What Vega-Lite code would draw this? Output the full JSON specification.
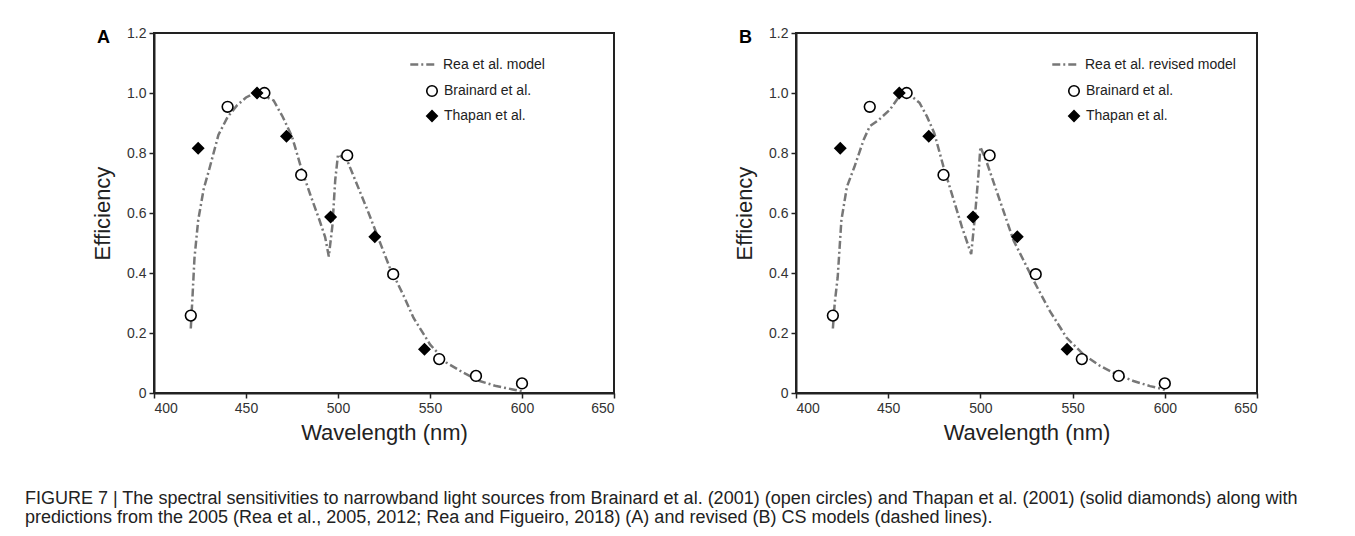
{
  "$schema": "https://vega.github.io/schema/vega-lite/v6.json",
  "autosize": {"type": "pad"},
  "padding": {"left": 25, "top": 25, "right": 0, "bottom": 0},
  "background": "white",
  "datasets": {
    "modelA": [
      {"wavelength": 420, "efficiency": 0.215},
      {"wavelength": 421, "efficiency": 0.33},
      {"wavelength": 422, "efficiency": 0.45},
      {"wavelength": 424, "efficiency": 0.575},
      {"wavelength": 427, "efficiency": 0.68},
      {"wavelength": 430, "efficiency": 0.745},
      {"wavelength": 435, "efficiency": 0.86},
      {"wavelength": 440, "efficiency": 0.92},
      {"wavelength": 445, "efficiency": 0.958},
      {"wavelength": 450, "efficiency": 0.985},
      {"wavelength": 455, "efficiency": 1.0},
      {"wavelength": 460, "efficiency": 0.99},
      {"wavelength": 465, "efficiency": 0.975},
      {"wavelength": 470, "efficiency": 0.92},
      {"wavelength": 475, "efficiency": 0.855},
      {"wavelength": 480, "efficiency": 0.75},
      {"wavelength": 485, "efficiency": 0.66},
      {"wavelength": 490, "efficiency": 0.575},
      {"wavelength": 493, "efficiency": 0.52},
      {"wavelength": 495, "efficiency": 0.455},
      {"wavelength": 497, "efficiency": 0.56},
      {"wavelength": 498.5, "efficiency": 0.71},
      {"wavelength": 500, "efficiency": 0.795},
      {"wavelength": 505, "efficiency": 0.775},
      {"wavelength": 510, "efficiency": 0.7},
      {"wavelength": 516, "efficiency": 0.61},
      {"wavelength": 522, "efficiency": 0.515},
      {"wavelength": 528, "efficiency": 0.42},
      {"wavelength": 530, "efficiency": 0.396},
      {"wavelength": 536, "efficiency": 0.32},
      {"wavelength": 541, "efficiency": 0.251},
      {"wavelength": 550, "efficiency": 0.162},
      {"wavelength": 559, "efficiency": 0.101},
      {"wavelength": 568, "efficiency": 0.068},
      {"wavelength": 577, "efficiency": 0.04},
      {"wavelength": 586, "efficiency": 0.023},
      {"wavelength": 595, "efficiency": 0.012},
      {"wavelength": 600, "efficiency": 0.006}
    ],
    "modelB": [
      {"wavelength": 420, "efficiency": 0.215},
      {"wavelength": 421, "efficiency": 0.3},
      {"wavelength": 422.6, "efficiency": 0.385},
      {"wavelength": 424.6, "efficiency": 0.575},
      {"wavelength": 427.6, "efficiency": 0.687},
      {"wavelength": 431.7, "efficiency": 0.754},
      {"wavelength": 436.7, "efficiency": 0.844},
      {"wavelength": 440, "efficiency": 0.889},
      {"wavelength": 445, "efficiency": 0.911},
      {"wavelength": 451, "efficiency": 0.945},
      {"wavelength": 456, "efficiency": 0.989},
      {"wavelength": 460, "efficiency": 1.003},
      {"wavelength": 467, "efficiency": 0.967},
      {"wavelength": 471, "efficiency": 0.922},
      {"wavelength": 475, "efficiency": 0.866},
      {"wavelength": 480, "efficiency": 0.754},
      {"wavelength": 485, "efficiency": 0.654},
      {"wavelength": 490, "efficiency": 0.553},
      {"wavelength": 495, "efficiency": 0.463},
      {"wavelength": 497, "efficiency": 0.586},
      {"wavelength": 499, "efficiency": 0.732},
      {"wavelength": 500, "efficiency": 0.82},
      {"wavelength": 503, "efficiency": 0.777},
      {"wavelength": 508, "efficiency": 0.687},
      {"wavelength": 513, "efficiency": 0.598},
      {"wavelength": 518, "efficiency": 0.508},
      {"wavelength": 523.5, "efficiency": 0.441},
      {"wavelength": 529, "efficiency": 0.373},
      {"wavelength": 537.7, "efficiency": 0.273},
      {"wavelength": 546.8, "efficiency": 0.184},
      {"wavelength": 555.8, "efficiency": 0.129},
      {"wavelength": 565, "efficiency": 0.09},
      {"wavelength": 574, "efficiency": 0.062},
      {"wavelength": 583, "efficiency": 0.04},
      {"wavelength": 592, "efficiency": 0.023},
      {"wavelength": 597, "efficiency": 0.016},
      {"wavelength": 600, "efficiency": 0.01}
    ],
    "points": [
      {"series": "Brainard et al.", "wavelength": 420, "efficiency": 0.258},
      {"series": "Brainard et al.", "wavelength": 440, "efficiency": 0.954},
      {"series": "Brainard et al.", "wavelength": 460, "efficiency": 1.0},
      {"series": "Brainard et al.", "wavelength": 480, "efficiency": 0.727},
      {"series": "Brainard et al.", "wavelength": 505, "efficiency": 0.792},
      {"series": "Brainard et al.", "wavelength": 530, "efficiency": 0.396},
      {"series": "Brainard et al.", "wavelength": 555, "efficiency": 0.113},
      {"series": "Brainard et al.", "wavelength": 575, "efficiency": 0.057},
      {"series": "Brainard et al.", "wavelength": 600, "efficiency": 0.032},
      {"series": "Thapan et al.", "wavelength": 424, "efficiency": 0.816},
      {"series": "Thapan et al.", "wavelength": 456, "efficiency": 1.0},
      {"series": "Thapan et al.", "wavelength": 472, "efficiency": 0.856},
      {"series": "Thapan et al.", "wavelength": 496, "efficiency": 0.587},
      {"series": "Thapan et al.", "wavelength": 520, "efficiency": 0.521},
      {"series": "Thapan et al.", "wavelength": 547, "efficiency": 0.146}
    ]
  },
  "hconcat": [
    {
      "title": {"text": "A", "anchor": "start", "frame": "group", "dx": -57, "dy": 30, "offset": 0, "baseline": "middle", "fontSize": 18, "fontWeight": "bold", "font": "Liberation Sans", "color": "#000"},
      "width": 460,
      "height": 360,
      "layer": [
        {
          "data": {"name": "modelA"},
          "mark": {"type": "line", "stroke": "#777777", "strokeWidth": 2.5},
          "encoding": {
            "x": {"field": "wavelength", "type": "quantitative", "scale": {"domain": [400, 650], "nice": false}, "axis": {"values": [400, 450, 500, 550, 600, 650], "title": "Wavelength (nm)"}},
            "y": {"field": "efficiency", "type": "quantitative", "scale": {"domain": [0, 1.2], "nice": false}, "axis": {"values": [0, 0.2, 0.4, 0.6, 0.8, 1.0, 1.2], "labelExpr": "datum.value === 0 ? '0' : format(datum.value, '.1f')", "title": "Efficiency"}},
            "strokeDash": {
              "datum": "Rea et al. model", "type": "nominal",
              "scale": {"domain": ["Rea et al. model"], "range": [[8, 3, 2, 3]]},
              "legend": {"title": null, "orient": "none", "legendX": 255, "legendY": 17, "symbolType": "stroke", "symbolSize": 700, "symbolStrokeColor": "#777777", "symbolStrokeWidth": 2.5, "padding": 0, "labelFont": "Liberation Sans", "labelFontSize": 14, "labelColor": "#222", "labelOffset": 5}
            }
          }
        },
        {
          "data": {"name": "points"},
          "mark": {"type": "point", "filled": true, "strokeWidth": 1.6, "size": 115, "opacity": 1},
          "encoding": {
            "x": {"field": "wavelength", "type": "quantitative"},
            "y": {"field": "efficiency", "type": "quantitative"},
            "fill": {"field": "series", "type": "nominal", "scale": {"domain": ["Brainard et al.", "Thapan et al."], "range": ["white", "black"]}},
            "stroke": {"field": "series", "type": "nominal", "scale": {"domain": ["Brainard et al.", "Thapan et al."], "range": ["black", "black"]}},
            "shape": {
              "field": "series", "type": "nominal",
              "scale": {"domain": ["Brainard et al.", "Thapan et al."], "range": ["circle", "diamond"]},
              "legend": {"title": null, "orient": "none", "legendX": 271, "legendY": 51, "symbolSize": 110, "symbolStrokeWidth": 1.6, "symbolOpacity": 1, "padding": 0, "rowPadding": 7, "labelFont": "Liberation Sans", "labelFontSize": 14, "labelColor": "#222", "labelOffset": 5}
            }
          }
        }
      ]
    },
    {
      "title": {"text": "B", "anchor": "start", "frame": "group", "dx": -57, "dy": 30, "offset": 0, "baseline": "middle", "fontSize": 18, "fontWeight": "bold", "font": "Liberation Sans", "color": "#000"},
      "width": 461,
      "height": 360,
      "layer": [
        {
          "data": {"name": "modelB"},
          "mark": {"type": "line", "stroke": "#777777", "strokeWidth": 2.5},
          "encoding": {
            "x": {"field": "wavelength", "type": "quantitative", "scale": {"domain": [400, 650], "nice": false}, "axis": {"values": [400, 450, 500, 550, 600, 650], "title": "Wavelength (nm)"}},
            "y": {"field": "efficiency", "type": "quantitative", "scale": {"domain": [0, 1.2], "nice": false}, "axis": {"values": [0, 0.2, 0.4, 0.6, 0.8, 1.0, 1.2], "labelExpr": "datum.value === 0 ? '0' : format(datum.value, '.1f')", "title": "Efficiency"}},
            "strokeDash": {
              "datum": "Rea et al. revised model", "type": "nominal",
              "scale": {"domain": ["Rea et al. revised model"], "range": [[8, 3, 2, 3]]},
              "legend": {"title": null, "orient": "none", "legendX": 255, "legendY": 17, "symbolType": "stroke", "symbolSize": 700, "symbolStrokeColor": "#777777", "symbolStrokeWidth": 2.5, "padding": 0, "labelFont": "Liberation Sans", "labelFontSize": 14, "labelColor": "#222", "labelOffset": 5}
            }
          }
        },
        {
          "data": {"name": "points"},
          "mark": {"type": "point", "filled": true, "strokeWidth": 1.6, "size": 115, "opacity": 1},
          "encoding": {
            "x": {"field": "wavelength", "type": "quantitative"},
            "y": {"field": "efficiency", "type": "quantitative"},
            "fill": {"field": "series", "type": "nominal", "scale": {"domain": ["Brainard et al.", "Thapan et al."], "range": ["white", "black"]}},
            "stroke": {"field": "series", "type": "nominal", "scale": {"domain": ["Brainard et al.", "Thapan et al."], "range": ["black", "black"]}},
            "shape": {
              "field": "series", "type": "nominal",
              "scale": {"domain": ["Brainard et al.", "Thapan et al."], "range": ["circle", "diamond"]},
              "legend": {"title": null, "orient": "none", "legendX": 271, "legendY": 51, "symbolSize": 110, "symbolStrokeWidth": 1.6, "symbolOpacity": 1, "padding": 0, "rowPadding": 7, "labelFont": "Liberation Sans", "labelFontSize": 14, "labelColor": "#222", "labelOffset": 5}
            }
          }
        }
      ]
    }
  ],
  "spacing": 182,
  "bounds": "flush",
  "resolve": {"scale": {"x": "independent", "y": "independent", "shape": "independent", "fill": "independent", "stroke": "independent", "strokeDash": "independent"}, "legend": {"shape": "independent", "fill": "independent", "stroke": "independent", "strokeDash": "independent"}},
  "title": {
    "text": [
      "FIGURE 7 | The spectral sensitivities to narrowband light sources from Brainard et al. (2001) (open circles) and Thapan et al. (2001) (solid diamonds) along with",
      "predictions from the 2005 (Rea et al., 2005, 2012; Rea and Figueiro, 2018) (A) and revised (B) CS models (dashed lines)."
    ],
    "orient": "bottom", "anchor": "start", "frame": "group", "dx": -129, "offset": 46, "baseline": "top",
    "font": "Liberation Sans", "fontSize": 18, "fontWeight": "normal", "color": "#222", "lineHeight": 19
  },
  "config": {
    "view": {"stroke": "#222222", "strokeWidth": 2},
    "axis": {
      "grid": false,
      "domainColor": "#222222", "domainWidth": 2,
      "tickColor": "#222222", "tickWidth": 1.5, "tickSize": 5,
      "labelFont": "Liberation Sans", "labelFontSize": 14, "labelColor": "#333333", "labelPadding": 3,
      "titleFont": "Liberation Sans", "titleFontSize": 22, "titleFontWeight": "normal", "titleColor": "#222222"
    },
    "axisY": {"titlePadding": 12},
    "axisX": {"titlePadding": 7}
  }
}
